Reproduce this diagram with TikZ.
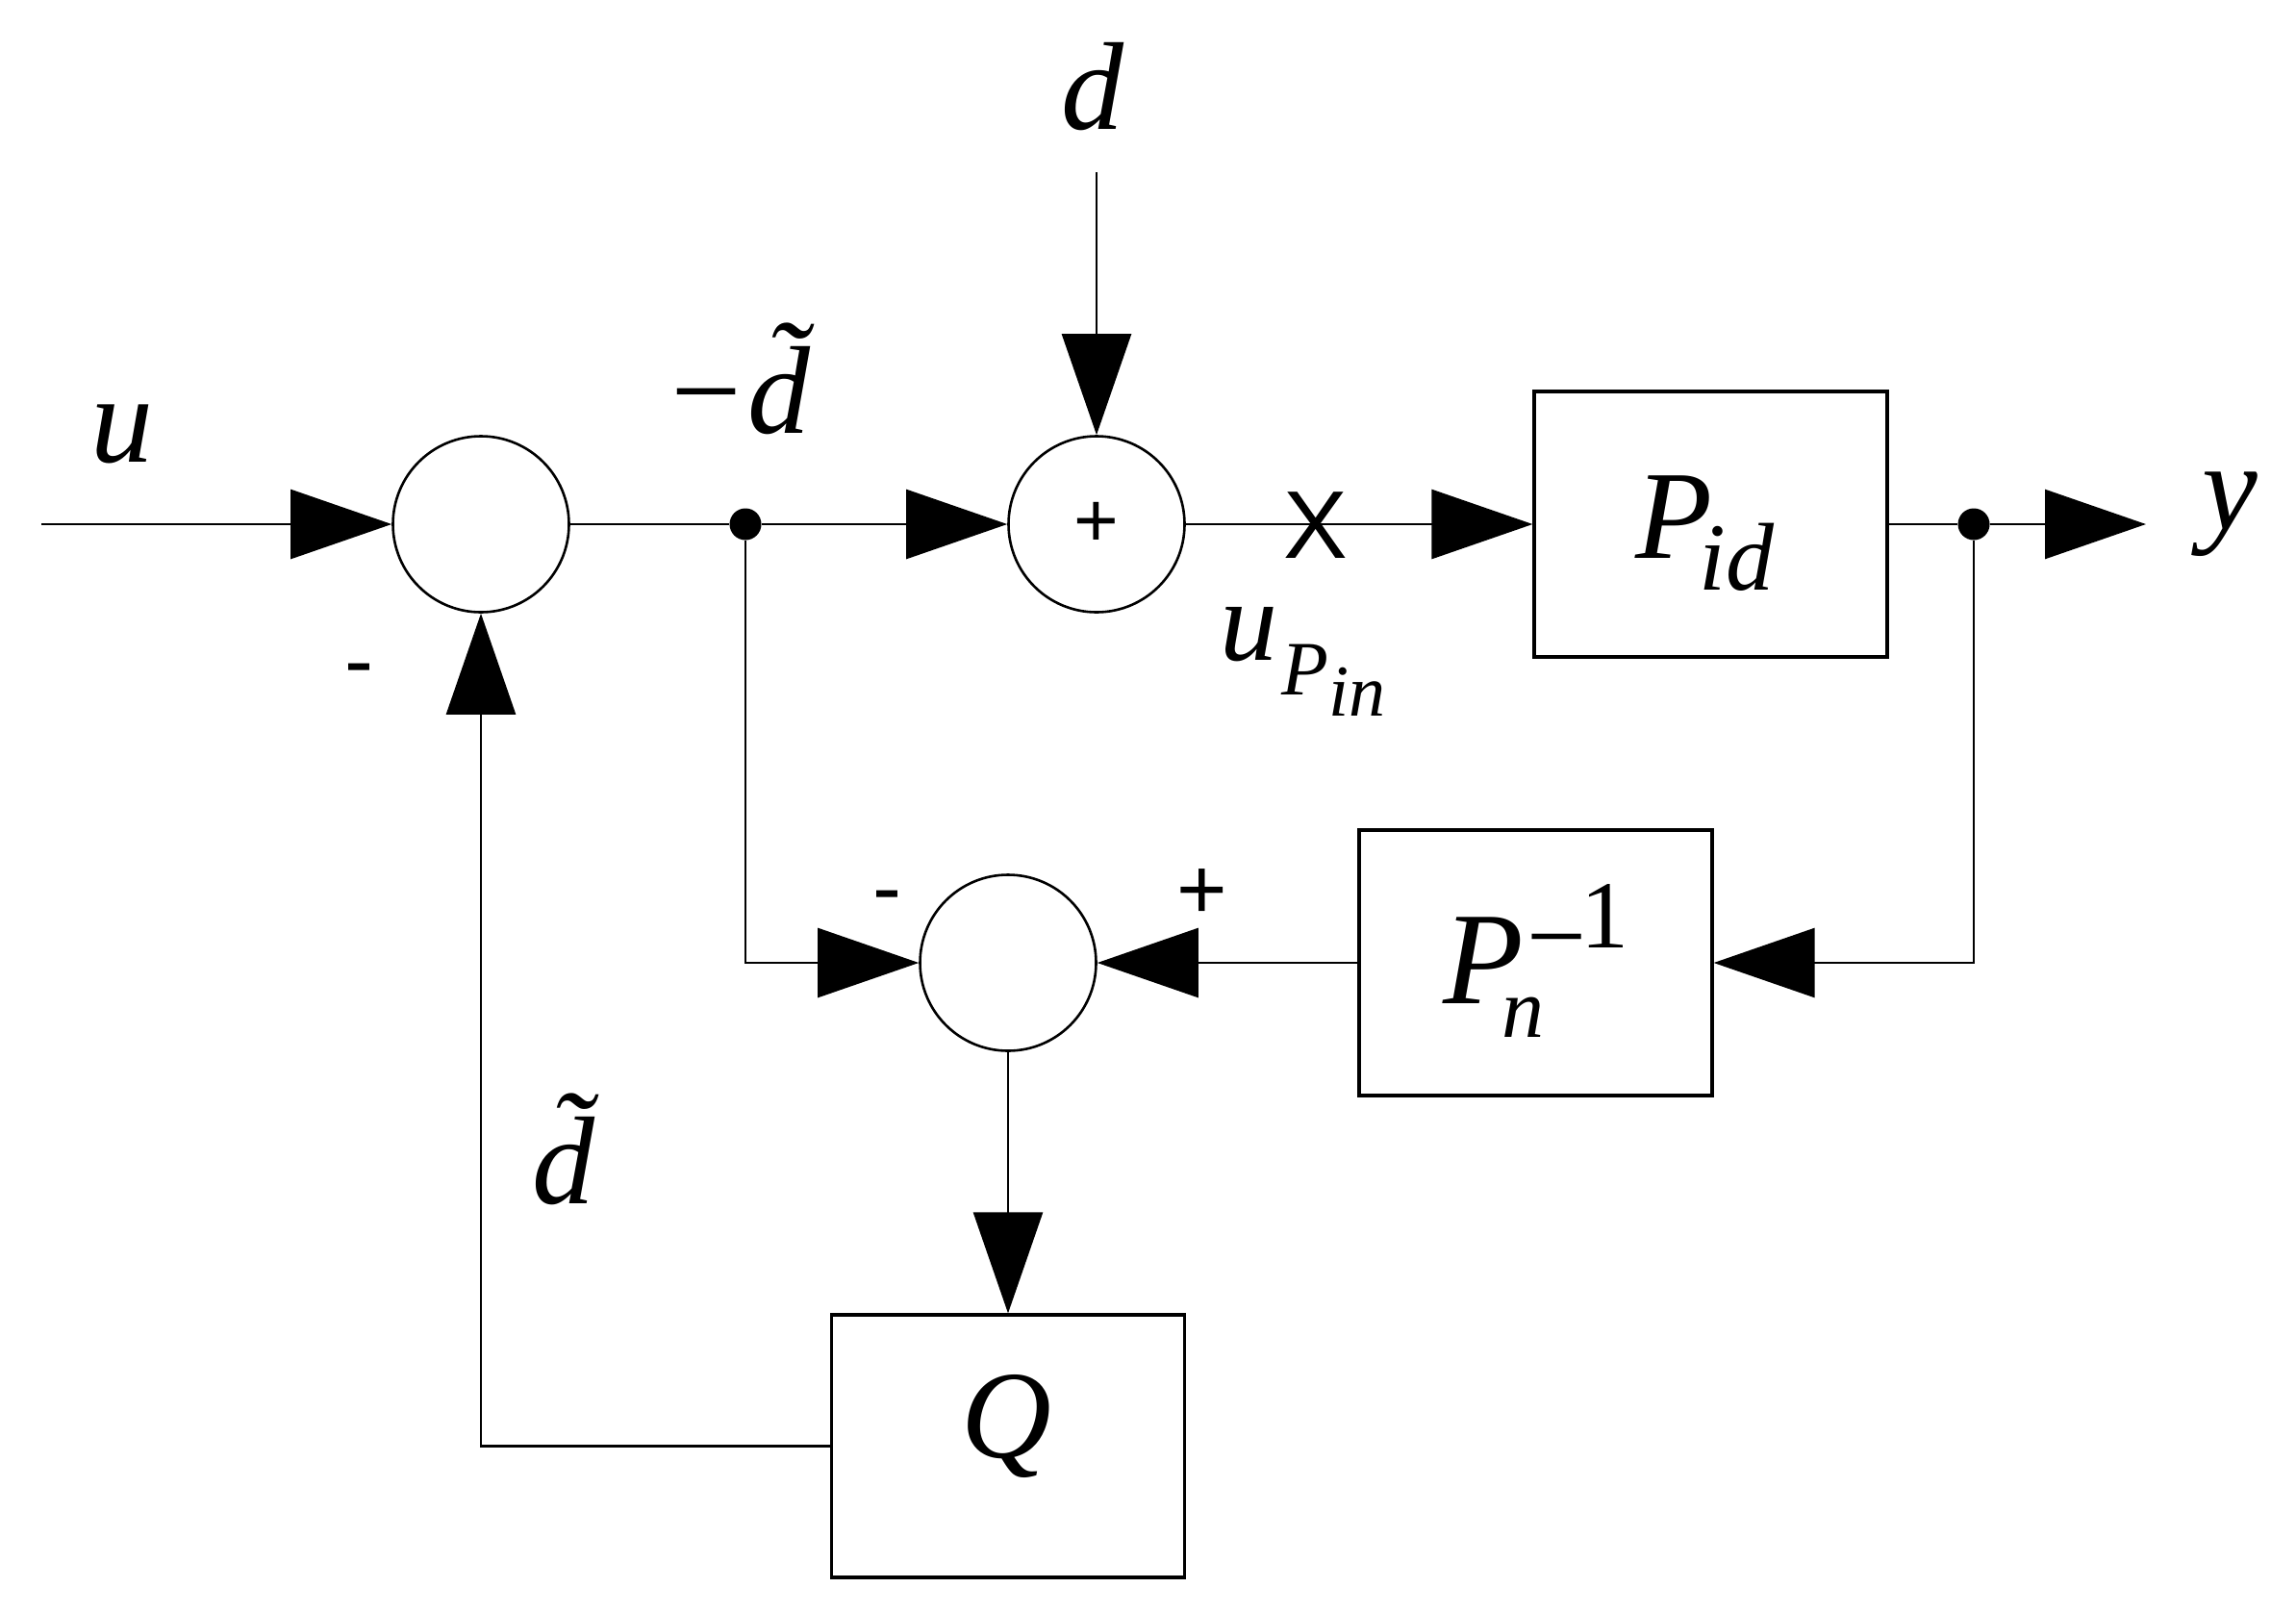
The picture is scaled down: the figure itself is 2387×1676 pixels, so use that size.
\documentclass[tikz,border=0pt]{standalone}
\usepackage{fontspec}
\setmainfont{Liberation Serif}
\newfontfamily\sansf{Liberation Sans}
\usetikzlibrary{arrows.meta}
\newcommand{\fsz}[1]{\fontsize{#1}{#1}\selectfont}
\begin{document}
\begin{tikzpicture}[x=1pt,y=-1pt,
  sumnode/.style={circle, draw, line width=2.6pt, minimum size=183pt, inner sep=0pt},
  blk/.style={rectangle, draw, line width=3.2pt, minimum width=367pt, minimum height=276pt, inner sep=0pt},
  dotnode/.style={circle, fill, minimum size=33pt, inner sep=0pt},
  wire/.style={line width=2.6pt},
  conn/.style={line width=2.6pt, -{Triangle[length=105pt,width=72pt]}},
  lbl/.style={font=\fsz{130}\itshape, inner sep=0pt, anchor=base},
  sgn/.style={font=\sansf\fsz{90}, inner sep=0pt}
]
\useasboundingbox (0,0) rectangle (2387,1676);

% nodes
\node[sumnode] (s1) at (500,545) {};
\node[sumnode] (s2) at (1140,545) {\sansf\fsz{80}+};
\node[sumnode] (s3) at (1048,1001) {};
\node[blk] (pid) at (1778.5,545) {};
\node[blk] (pn) at (1596.5,1001) {};
\node[blk, minimum height=273pt] (q) at (1048,1503.5) {};
\node[dotnode] (j1) at (775,545) {};
\node[dotnode] (j2) at (2052,545) {};
\coordinate (uin) at (43,545);
\coordinate (dtop) at (1140,179);
\coordinate (yout) at (2231,545);

% block texts
\node[inner sep=0pt, anchor=base west, font=\fsz{131}\itshape] (tpid) at (1700,580)
  {P\kern-14pt\raisebox{-33pt}{\fsz{100}id}};
\node[inner sep=0pt, anchor=base west, font=\fsz{137}\itshape] (tpn) at (1500,1043)
  {P\rlap{\kern-22pt\raisebox{-35pt}{\fsz{88}n}}\kern4pt\raisebox{33pt}{\fsz{110}\upshape −}\kern-6pt\raisebox{58pt}{\fsz{100}\upshape 1}};
\node[lbl] (tq) at (1046,1515) {Q};

% connectors
\draw[conn] (uin) -- (s1.west);
\draw[wire] (s1.east) -- (j1);
\draw[conn] (j1) -- (s2.west);
\draw[conn] (dtop) -- (s2.north);
\draw[conn] (s2.east) -- (pid.west);
\draw[wire] (pid.east) -- (j2);
\draw[conn] (j2) -- (yout);
\draw[conn] (j2) |- (pn.east);
\draw[conn] (pn.west) -- (s3.east);
\draw[conn] (j1) |- (s3.west);
\draw[conn] (s3.south) -- (q.north);
\draw[conn] (q.west) -| (s1.south);

% labels
\node[lbl] (lu) at (127,480) {u};
\node[lbl] (lmd) at (766,450) {−\~{d}};
\node[lbl] (ld) at (1136,134) {d};
\node[lbl] (ly) at (2318,550) {y};
\node[lbl] (ldt) at (586,1251) {\~{d}};
\node[inner sep=0pt, anchor=base west, font=\itshape] (lup) at (1268,686)
  {\fsz{120}u\kern4pt\raisebox{-36pt}{\fsz{80}P}\raisebox{-58pt}{\fsz{76}in}};
\node[font=\sansf\fsz{100}, inner sep=0pt] (xm) at (1368,546) {X};
\node[sgn] (m1) at (373,704) {-};
\node[sgn] (m3) at (922,940) {-};
\node[sgn] (p3) at (1250,930) {+};
\end{tikzpicture}
\end{document}
